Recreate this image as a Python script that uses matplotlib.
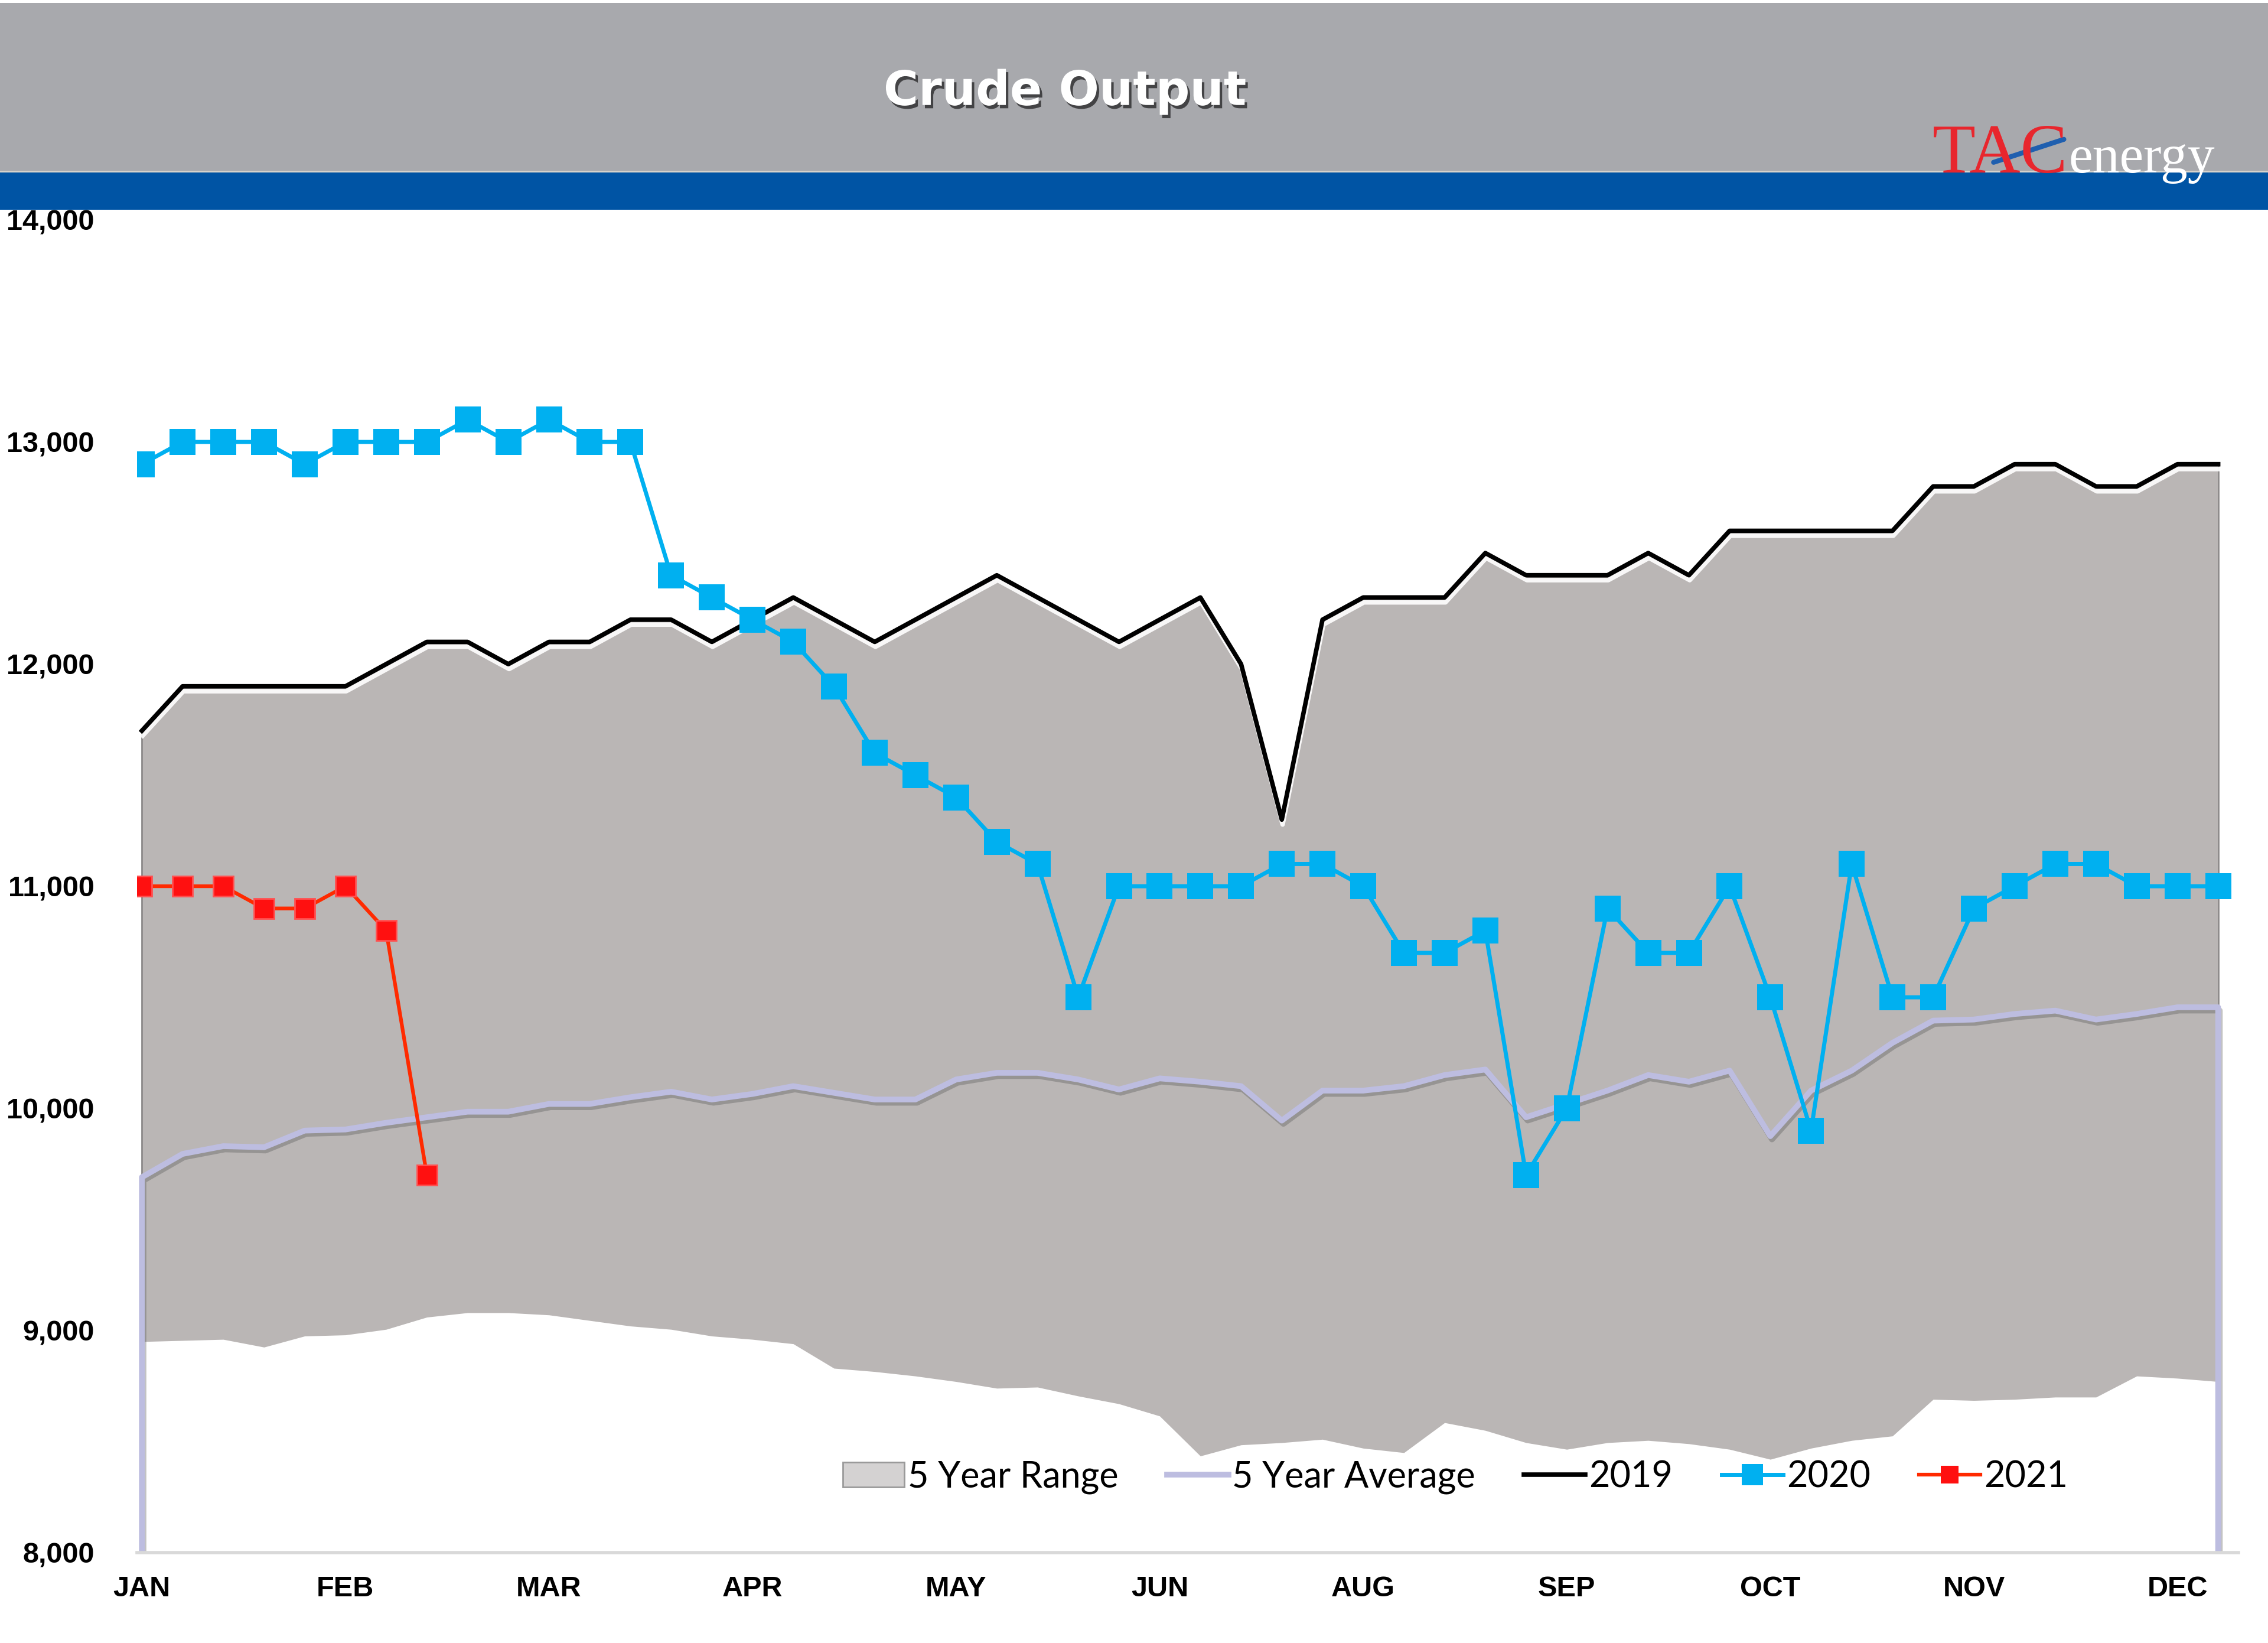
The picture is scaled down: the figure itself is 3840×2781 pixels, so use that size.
import matplotlib
matplotlib.use("Agg")
import matplotlib.pyplot as plt
import matplotlib.patheffects as pe
from matplotlib.lines import Line2D
from matplotlib.patches import Patch, Rectangle

# weekly crude output, thousand b/d
months = ["JAN", "FEB", "MAR", "APR", "MAY", "JUN", "AUG", "SEP", "OCT", "NOV", "DEC"]
month_weeks = [0, 5, 10, 15, 20, 25, 30, 35, 40, 45, 50]
yticks = [8000, 9000, 10000, 11000, 12000, 13000, 14000]

crude_2019 = [11700, 11900, 11900, 11900, 11900, 11900, 12000, 12100, 12100, 12000,
              12100, 12100, 12200, 12200, 12100, 12200, 12300, 12200, 12100, 12200,
              12300, 12400, 12300, 12200, 12100, 12200, 12300, 12000, 11300, 12200,
              12300, 12300, 12300, 12500, 12400, 12400, 12400, 12500, 12400, 12600,
              12600, 12600, 12600, 12600, 12800, 12800, 12900, 12900, 12800, 12800,
              12900, 12900]

crude_2020 = [12900, 13000, 13000, 13000, 12900, 13000, 13000, 13000, 13100, 13000,
              13100, 13000, 13000, 12400, 12300, 12200, 12100, 11900, 11600, 11500,
              11400, 11200, 11100, 10500, 11000, 11000, 11000, 11000, 11100, 11100,
              11000, 10700, 10700, 10800, 9700, 10000, 10900, 10700, 10700, 11000,
              10500, 9900, 11100, 10500, 10500, 10900, 11000, 11100, 11100, 11000,
              11000, 11000]

crude_2021 = [11000, 11000, 11000, 10900, 10900, 11000, 10800, 9700]

range_low = [8950, 8955, 8960, 8925, 8975, 8980, 9005, 9060, 9080, 9080,
             9070, 9045, 9020, 9005, 8975, 8960, 8940, 8830, 8815, 8795,
             8770, 8740, 8745, 8705, 8670, 8615, 8435, 8485, 8495, 8510,
             8470, 8450, 8585, 8550, 8495, 8465, 8495, 8505, 8490, 8465,
             8420, 8470, 8505, 8525, 8690, 8685, 8690, 8700, 8700, 8795,
             8785, 8770]
range_high = crude_2019  # top of the 5 year range is the 2019 line

avg_5yr = [9690, 9795, 9830, 9825, 9900, 9905, 9935, 9960, 9985, 9985,
           10020, 10020, 10050, 10075, 10040, 10065, 10100, 10070, 10040, 10040,
           10130, 10160, 10160, 10130, 10085, 10135, 10120, 10100, 9945, 10080,
           10080, 10100, 10150, 10175, 9960, 10020, 10080, 10150, 10120, 10170,
           9875, 10080, 10170, 10295, 10395, 10400, 10425, 10440, 10400, 10425,
           10455, 10455]

weeks = list(range(len(crude_2019)))
ymin, ymax = yticks[0], yticks[-1]

fig = plt.figure(figsize=(38.4, 27.81), dpi=100)
fig.patch.set_facecolor("white")

# header bands
fig.patches.append(Rectangle((0, 0.8957), 1, 0.1025, transform=fig.transFigure,
                             facecolor="#A8A9AD", edgecolor="none", zorder=0))
fig.patches.append(Rectangle((0, 0.8723), 1, 0.0234, transform=fig.transFigure,
                             facecolor="#0054A4", edgecolor="none", zorder=1))
fig.add_artist(Line2D([0, 1], [0.8957, 0.8957], transform=fig.transFigure,
                      color="#D8D4CC", lw=2))

fig.text(0.4695, 0.9440, "Crude Output", color="white", fontsize=58,
         fontweight="bold", ha="center", va="center", family="DejaVu Sans",
         path_effects=[pe.withSimplePatchShadow(offset=(3, -4), shadow_rgbFace="black", alpha=0.6)])

# logo
fig.text(0.8520, 0.8950, "TAC", color="#E8262D", fontsize=86, family="Liberation Serif",
         ha="left", va="baseline")
fig.text(0.9120, 0.8950, "energy", color="white", fontsize=66, family="Liberation Serif",
         ha="left", va="baseline")
fig.add_artist(Line2D([0.8790, 0.9100], [0.9012, 0.9152], transform=fig.transFigure,
                      color="#1F5FAF", lw=6, solid_capstyle="round"))

ax = fig.add_axes([0.0604, 0.0550, 0.9266, 0.8112])
ax.set_facecolor("white")

# 5 year range
ax.fill_between(weeks, range_low, range_high, color="#BAB6B5", lw=0, zorder=1)
ax.vlines([weeks[0], weeks[-1]], [range_low[0], range_low[-1]],
          [range_high[0], range_high[-1]], color="#8C8A8A", lw=2, zorder=1.5)

# 5 year average, dropped to the floor at both ends
avg_x = [weeks[0]] + weeks + [weeks[-1]]
avg_y = [ymin] + avg_5yr + [ymin]
ax.plot(avg_x, avg_y, color="#BDBDE0", lw=7, zorder=2,
        path_effects=[pe.SimpleLineShadow(offset=(2, -4), shadow_color="#555555", alpha=0.35),
                      pe.Normal()])

ax.plot(weeks, crude_2019, color="black", lw=5.5, zorder=3,
        path_effects=[pe.SimpleLineShadow(offset=(1, -6), shadow_color="white", alpha=0.9),
                      pe.Normal()])

ax.plot(weeks, crude_2020, color="#00B0F0", lw=5, marker="s", markersize=32,
        markeredgewidth=0, zorder=4)

ax.plot(weeks[:len(crude_2021)], crude_2021, color="#FF2A00", lw=4.5, marker="s",
        markersize=25, markerfacecolor="#FF1010", markeredgecolor="#FF5050",
        markeredgewidth=2, zorder=5)

ax.set_xlim(-0.12, 51.5)
ax.set_ylim(ymin, ymax)
ax.set_xticks(month_weeks)
ax.set_xticklabels(months)
ax.set_yticks(yticks)
ax.set_yticklabels([f"{v:,}" for v in yticks])
for lab in ax.get_xticklabels() + ax.get_yticklabels():
    lab.set_family("Liberation Sans")
    lab.set_fontweight("bold")
    lab.set_fontsize(35)
ax.tick_params(axis="both", length=0)
ax.tick_params(axis="y", pad=52)
ax.tick_params(axis="x", pad=28)

for side in ["left", "top", "right"]:
    ax.spines[side].set_visible(False)
ax.spines["bottom"].set_color("#D9D9D9")
ax.spines["bottom"].set_linewidth(4)

handles = [
    Patch(facecolor="#D4D2D2", edgecolor="#9A9A9A", lw=2),
    Line2D([], [], color="#BDBDE0", lw=7),
    Line2D([], [], color="black", lw=5.5),
    Line2D([], [], color="#00B0F0", lw=5, marker="s", markersize=26, markeredgewidth=0),
    Line2D([], [], color="#FF2A00", lw=4.5, marker="s", markersize=22,
           markerfacecolor="#FF1010", markeredgewidth=0),
]
labels = ["5 Year Range", "5 Year Average", "2019", "2020", "2021"]
ax.legend(handles, labels, loc="center", bbox_to_anchor=(0.6417, 0.101),
          bbox_transform=fig.transFigure, ncol=5, frameon=False,
          prop={"family": "Lato", "size": 44}, handlelength=1.7, handletextpad=0.1,
          columnspacing=1.35, borderpad=0)

fig.savefig("out.png", dpi=100, facecolor="white")
